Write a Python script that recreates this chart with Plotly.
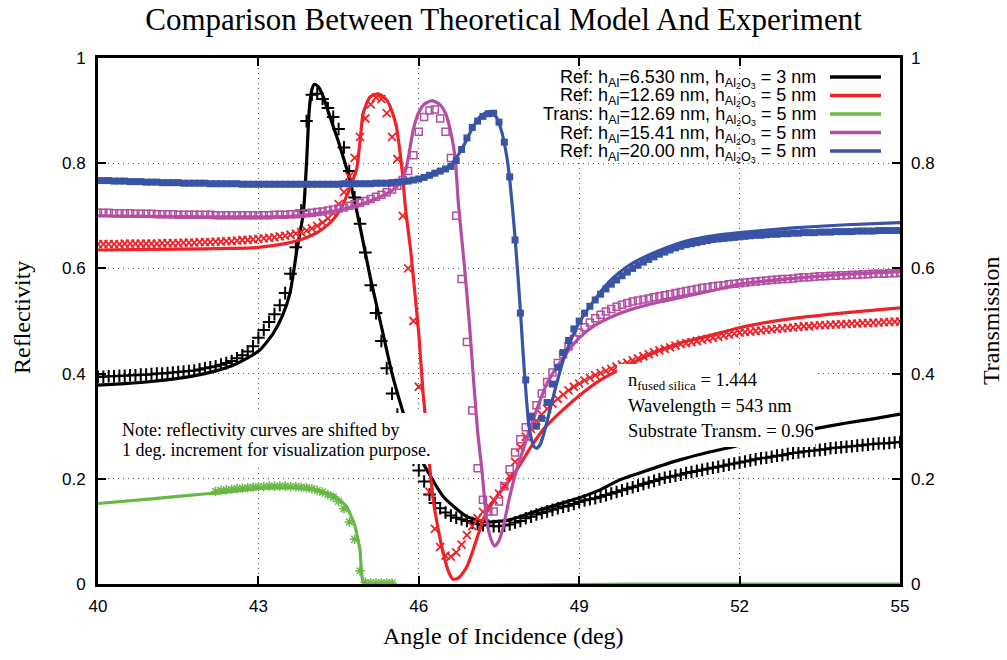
import plotly.graph_objects as go

# ---------------- data ----------------
EXP_ANGLE = [40.0, 40.1, 40.2, 40.3, 40.4, 40.5, 40.6, 40.7, 40.8, 40.9,
             41.0, 41.1, 41.2, 41.3, 41.4, 41.5, 41.6, 41.7, 41.8, 41.9,
             42.0, 42.1, 42.2, 42.3, 42.4, 42.5, 42.6, 42.7, 42.8, 42.9,
             43.0, 43.1, 43.2, 43.3, 43.4, 43.5, 43.6, 43.7, 43.8, 43.9,
             44.0, 44.1, 44.2, 44.3, 44.4, 44.5, 44.6, 44.7, 44.8, 44.9,
             45.0, 45.1, 45.2, 45.3, 45.4, 45.5, 45.6, 45.7, 45.8, 45.9,
             46.0, 46.1, 46.2, 46.3, 46.4, 46.5, 46.6, 46.7, 46.8, 46.9,
             47.0, 47.1, 47.2, 47.3, 47.4, 47.5, 47.6, 47.7, 47.8, 47.9,
             48.0, 48.1, 48.2, 48.3, 48.4, 48.5, 48.6, 48.7, 48.8, 48.9,
             49.0, 49.1, 49.2, 49.3, 49.4, 49.5, 49.6, 49.7, 49.8, 49.9,
             50.0, 50.1, 50.2, 50.3, 50.4, 50.5, 50.6, 50.7, 50.8, 50.9,
             51.0, 51.1, 51.2, 51.3, 51.4, 51.5, 51.6, 51.7, 51.8, 51.9,
             52.0, 52.1, 52.2, 52.3, 52.4, 52.5, 52.6, 52.7, 52.8, 52.9,
             53.0, 53.1, 53.2, 53.3, 53.4, 53.5, 53.6, 53.7, 53.8, 53.9,
             54.0, 54.1, 54.2, 54.3, 54.4, 54.5, 54.6, 54.7, 54.8, 54.9,
             55.0]

# experiment, h_Al = 6.530 nm (black +)
BLACK_EXP = [0.394, 0.394, 0.395, 0.395, 0.396, 0.396, 0.397, 0.397, 0.398, 0.398,
             0.399, 0.400, 0.400, 0.401, 0.402, 0.403, 0.404, 0.405, 0.406, 0.408,
             0.410, 0.412, 0.414, 0.417, 0.420, 0.424, 0.429, 0.435, 0.442, 0.452,
             0.468, 0.483, 0.498, 0.513, 0.530, 0.553, 0.590, 0.640, 0.710, 0.880,
             0.930, 0.932, 0.922, 0.905, 0.888, 0.865, 0.830, 0.785, 0.735, 0.685,
             0.630, 0.568, 0.515, 0.462, 0.410, 0.362, 0.322, 0.287, 0.257, 0.236,
             0.216, 0.195, 0.170, 0.154, 0.144, 0.136, 0.130, 0.126, 0.123, 0.120,
             0.116, 0.114, 0.112, 0.111, 0.110, 0.110, 0.111, 0.113, 0.117, 0.120,
             0.125, 0.128, 0.132, 0.135, 0.138, 0.141, 0.144, 0.147, 0.149, 0.152,
             0.156, 0.159, 0.161, 0.163, 0.166, 0.169, 0.172, 0.175, 0.178, 0.181,
             0.184, 0.187, 0.190, 0.193, 0.196, 0.199, 0.202, 0.204, 0.206, 0.208,
             0.211, 0.213, 0.215, 0.217, 0.219, 0.221, 0.223, 0.225, 0.227, 0.229,
             0.231, 0.233, 0.235, 0.237, 0.239, 0.240, 0.242, 0.244, 0.245, 0.247,
             0.249, 0.250, 0.252, 0.253, 0.254, 0.255, 0.256, 0.258, 0.259, 0.260,
             0.261, 0.262, 0.263, 0.264, 0.265, 0.266, 0.267, 0.267, 0.268, 0.269,
             0.270]

# experiment, h_Al = 12.69 nm (red x)
RED_EXP = [0.646, 0.646, 0.646, 0.646, 0.646, 0.647, 0.647, 0.647, 0.647, 0.647,
           0.647, 0.647, 0.648, 0.648, 0.648, 0.648, 0.649, 0.649, 0.649, 0.650,
           0.650, 0.650, 0.651, 0.651, 0.652, 0.652, 0.653, 0.654, 0.654, 0.655,
           0.656, 0.657, 0.658, 0.659, 0.661, 0.662, 0.664, 0.666, 0.669, 0.672,
           0.676, 0.681, 0.687, 0.695, 0.705, 0.722, 0.745, 0.775, 0.810, 0.850,
           0.885, 0.912, 0.925, 0.922, 0.895, 0.850, 0.808, 0.700, 0.600, 0.500,
           0.375, 0.270, 0.175, 0.105, 0.070, 0.054, 0.052, 0.060, 0.075, 0.093,
           0.110, 0.125, 0.137, 0.148, 0.160, 0.172, 0.187, 0.205, 0.232, 0.260,
           0.280, 0.295, 0.310, 0.322, 0.333, 0.343, 0.352, 0.360, 0.368, 0.375,
           0.381, 0.387, 0.392, 0.397, 0.401, 0.405, 0.409, 0.413, 0.417, 0.421,
           0.425, 0.429, 0.433, 0.437, 0.441, 0.444, 0.447, 0.450, 0.453, 0.456,
           0.458, 0.460, 0.462, 0.464, 0.466, 0.468, 0.470, 0.472, 0.474, 0.476,
           0.478, 0.479, 0.480, 0.481, 0.482, 0.483, 0.484, 0.485, 0.486, 0.487,
           0.488, 0.489, 0.490, 0.490, 0.491, 0.492, 0.492, 0.493, 0.493, 0.494,
           0.494, 0.495, 0.495, 0.496, 0.496, 0.497, 0.497, 0.498, 0.498, 0.499,
           0.499]

# experiment, h_Al = 15.41 nm (magenta open squares)
MAGENTA_EXP = [0.706, 0.706, 0.706, 0.705, 0.705, 0.705, 0.705, 0.704, 0.704, 0.704,
               0.704, 0.703, 0.703, 0.703, 0.703, 0.702, 0.702, 0.702, 0.702, 0.702,
               0.702, 0.702, 0.701, 0.701, 0.701, 0.701, 0.701, 0.701, 0.701, 0.701,
               0.701, 0.701, 0.701, 0.702, 0.702, 0.702, 0.703, 0.703, 0.704, 0.705,
               0.706, 0.707, 0.708, 0.710, 0.712, 0.714, 0.716, 0.719, 0.722, 0.725,
               0.728, 0.732, 0.736, 0.740, 0.745, 0.750, 0.757, 0.768, 0.785, 0.815,
               0.860, 0.888, 0.900, 0.902, 0.885, 0.860, 0.810, 0.700, 0.580, 0.460,
               0.330, 0.220, 0.160, 0.138, 0.138, 0.157, 0.186, 0.218, 0.250, 0.275,
               0.298, 0.318, 0.340, 0.362, 0.384, 0.402, 0.420, 0.437, 0.452, 0.466,
               0.478, 0.488, 0.497, 0.505, 0.512, 0.518, 0.523, 0.527, 0.531, 0.534,
               0.537, 0.539, 0.541, 0.543, 0.545, 0.547, 0.549, 0.551, 0.553, 0.555,
               0.557, 0.559, 0.561, 0.563, 0.564, 0.566, 0.567, 0.568, 0.570, 0.571,
               0.572, 0.573, 0.574, 0.575, 0.576, 0.577, 0.578, 0.579, 0.580, 0.580,
               0.581, 0.582, 0.583, 0.583, 0.584, 0.585, 0.585, 0.586, 0.586, 0.587,
               0.587, 0.588, 0.588, 0.589, 0.589, 0.590, 0.590, 0.590, 0.591, 0.591,
               0.592]

# experiment, h_Al = 20.00 nm (blue filled squares)
BLUE_EXP = [0.767, 0.767, 0.767, 0.766, 0.766, 0.766, 0.765, 0.765, 0.765, 0.764,
            0.764, 0.764, 0.763, 0.763, 0.763, 0.763, 0.762, 0.762, 0.762, 0.762,
            0.762, 0.761, 0.761, 0.761, 0.761, 0.761, 0.761, 0.760, 0.760, 0.760,
            0.760, 0.760, 0.760, 0.760, 0.760, 0.760, 0.760, 0.760, 0.760, 0.760,
            0.760, 0.760, 0.760, 0.760, 0.760, 0.760, 0.761, 0.761, 0.761, 0.761,
            0.761, 0.761, 0.762, 0.762, 0.762, 0.763, 0.764, 0.765, 0.766, 0.768,
            0.770, 0.773, 0.777, 0.781, 0.785, 0.789, 0.794, 0.805, 0.826, 0.848,
            0.868, 0.880, 0.889, 0.894, 0.895, 0.878, 0.840, 0.774, 0.654, 0.515,
            0.388, 0.318, 0.300, 0.315, 0.345, 0.380, 0.412, 0.440, 0.463, 0.485,
            0.500, 0.515, 0.528, 0.540, 0.551, 0.561, 0.570, 0.578, 0.586, 0.593,
            0.600, 0.606, 0.612, 0.617, 0.622, 0.627, 0.631, 0.635, 0.639, 0.642,
            0.645, 0.647, 0.649, 0.651, 0.653, 0.655, 0.656, 0.657, 0.658, 0.659,
            0.660, 0.661, 0.662, 0.663, 0.663, 0.664, 0.665, 0.665, 0.666, 0.666,
            0.667, 0.667, 0.668, 0.668, 0.668, 0.669, 0.669, 0.669, 0.670, 0.670,
            0.670, 0.670, 0.671, 0.671, 0.671, 0.671, 0.672, 0.672, 0.672, 0.672,
            0.672]

# experiment, transmission h_Al = 12.69 nm (green)
GREEN_EXP_ANGLE = [42.2, 42.3, 42.4, 42.5, 42.6, 42.7, 42.8, 42.9, 43.0, 43.1,
                   43.2, 43.3, 43.4, 43.5, 43.6, 43.7, 43.8, 43.9, 44.0, 44.1,
                   44.2, 44.3, 44.4, 44.5, 44.6, 44.7, 44.8, 44.9, 45.0, 45.1,
                   45.2, 45.3, 45.4, 45.5]
GREEN_EXP = [0.176, 0.178, 0.179, 0.180, 0.181, 0.182, 0.183, 0.184, 0.185, 0.185,
             0.186, 0.186, 0.186, 0.186, 0.185, 0.185, 0.184, 0.183, 0.181, 0.178,
             0.175, 0.170, 0.165, 0.157, 0.143, 0.118, 0.085, 0.025, 0.003, 0.002,
             0.002, 0.002, 0.002, 0.002]

# theory curves
BLACK_TH_ANGLE = [40.0, 40.5, 41.0, 41.5, 42.0, 42.5, 42.8, 43.03, 43.28, 43.45, 43.59,
                  43.72, 43.84, 43.9, 43.95, 44.0, 44.05, 44.12, 44.2, 44.3, 44.5, 44.71,
                  44.9, 45.09, 45.3, 45.5, 45.71, 45.9, 46.15, 46.46, 46.9, 47.27, 47.7,
                  48.27, 48.89, 49.39, 49.76, 50.3, 50.88, 51.4, 51.88, 52.5, 53.0,
                  53.44, 54.0, 54.5, 55.0]
BLACK_TH = [0.378, 0.381, 0.385, 0.391, 0.400, 0.415, 0.430, 0.445, 0.477, 0.510, 0.553,
            0.635, 0.705, 0.800, 0.900, 0.940, 0.950, 0.945, 0.930, 0.900, 0.840, 0.768,
            0.680, 0.584, 0.490, 0.400, 0.325, 0.265, 0.217, 0.166, 0.128, 0.118, 0.122,
            0.141, 0.160, 0.179, 0.198, 0.217, 0.236, 0.250, 0.261, 0.277, 0.288,
            0.296, 0.306, 0.314, 0.323]

RED_TH_ANGLE = [40.0, 41.0, 42.0, 42.5, 43.0, 43.5, 43.8, 44.0, 44.2, 44.4, 44.55, 44.7,
                44.77, 44.84, 44.9, 44.96, 45.09, 45.24, 45.4, 45.5, 45.58, 45.65, 45.7,
                45.75, 45.85, 45.92, 46.0, 46.08, 46.15, 46.21, 46.27, 46.33, 46.4, 46.46,
                46.55, 46.64, 46.75, 46.9, 47.0, 47.14, 47.2, 47.35, 47.5, 47.7, 47.9,
                48.08, 48.33, 48.6, 49.0, 49.4, 49.8, 50.3, 50.88, 51.5, 52.07, 53.0,
                54.0, 55.0]
RED_TH = [0.635, 0.636, 0.637, 0.638, 0.640, 0.647, 0.655, 0.663, 0.675, 0.693, 0.715, 0.750,
          0.768, 0.790, 0.840, 0.895, 0.926, 0.932, 0.920, 0.898, 0.870, 0.820, 0.775,
          0.715, 0.632, 0.560, 0.475, 0.363, 0.290, 0.217, 0.160, 0.122, 0.085, 0.058,
          0.025, 0.009, 0.012, 0.033, 0.060, 0.103, 0.122, 0.150, 0.172, 0.198, 0.228,
          0.258, 0.294, 0.322, 0.358, 0.388, 0.410, 0.435, 0.458, 0.474, 0.489, 0.505,
          0.516, 0.525]

GREEN_TH_ANGLE = [40.0, 41.0, 42.09, 43.09, 43.6, 44.03, 44.2, 44.4, 44.55, 44.65, 44.75,
                  44.81, 44.86, 44.9, 44.93, 44.96, 45.0, 50.0, 55.0]
GREEN_TH = [0.153, 0.162, 0.172, 0.182, 0.183, 0.179, 0.175, 0.169, 0.157, 0.147, 0.125,
            0.109, 0.085, 0.065, 0.020, 0.004, 0.000, 0.000, 0.000]

MAGENTA_TH_ANGLE = [40.0, 41.0, 42.0, 43.0, 43.6, 44.0, 44.5, 45.0, 45.3, 45.5, 45.65, 45.75,
                    45.82, 45.9, 46.0, 46.1, 46.25, 46.4, 46.5, 46.6, 46.68, 46.74, 46.8,
                    46.86, 46.95, 47.03, 47.1, 47.18, 47.27, 47.35, 47.42, 47.5, 47.58,
                    47.7, 47.83, 48.0, 48.2, 48.4, 48.7, 49.0, 49.3, 49.65, 50.0, 50.5,
                    50.9, 51.5, 52.0, 53.0, 54.0, 55.0]
MAGENTA_TH = [0.700, 0.699, 0.698, 0.698, 0.699, 0.703, 0.711, 0.725, 0.737, 0.748, 0.762, 0.785,
              0.820, 0.865, 0.897, 0.912, 0.919, 0.911, 0.895, 0.858, 0.810, 0.724, 0.660,
              0.597, 0.490, 0.380, 0.290, 0.217, 0.122, 0.085, 0.072, 0.082, 0.109,
              0.166, 0.217, 0.270, 0.330, 0.382, 0.430, 0.468, 0.492, 0.510, 0.523, 0.536,
              0.545, 0.558, 0.570, 0.581, 0.589, 0.594]

BLUE_TH_ANGLE = [40.0, 41.0, 42.0, 43.0, 44.0, 45.0, 45.5, 46.0, 46.3, 46.6, 46.8, 47.0,
                 47.15, 47.3, 47.45, 47.55, 47.65, 47.7, 47.8, 47.9, 47.95, 48.0, 48.05,
                 48.1, 48.15, 48.2, 48.27, 48.35, 48.45, 48.55, 48.7, 48.85, 49.0, 49.25,
                 49.5, 49.75, 50.0, 50.5, 51.0, 51.5, 52.0, 53.0, 54.0, 55.0]
BLUE_TH = [0.767, 0.764, 0.762, 0.760, 0.760, 0.761, 0.763, 0.770, 0.779, 0.797, 0.826, 0.866,
           0.889, 0.898, 0.888, 0.860, 0.810, 0.770, 0.660, 0.520, 0.440, 0.370, 0.310,
           0.278, 0.262, 0.258, 0.265, 0.290, 0.330, 0.370, 0.425, 0.465, 0.497, 0.535,
           0.568, 0.592, 0.610, 0.634, 0.652, 0.662, 0.668, 0.677, 0.683, 0.687]

LEGEND_LABELS = [
    "Ref: h<sub>Al</sub>=6.530 nm, h<sub>Al<sub>2</sub>O<sub>3</sub></sub> = 3 nm",
    "Ref: h<sub>Al</sub>=12.69 nm, h<sub>Al<sub>2</sub>O<sub>3</sub></sub> = 5 nm",
    "Trans: h<sub>Al</sub>=12.69 nm, h<sub>Al<sub>2</sub>O<sub>3</sub></sub> = 5 nm",
    "Ref: h<sub>Al</sub>=15.41 nm, h<sub>Al<sub>2</sub>O<sub>3</sub></sub> = 5 nm",
    "Ref: h<sub>Al</sub>=20.00 nm, h<sub>Al<sub>2</sub>O<sub>3</sub></sub> = 5 nm",
]
X_TICKS = [40, 43, 46, 49, 52, 55]
Y_TICKS = [0, 0.2, 0.4, 0.6, 0.8, 1]
Y_TICKTEXT = ["0", "0.2", "0.4", "0.6", "0.8", "1"]

# ---------------- styling ----------------
BLACK = "#000000"
RED = "#ee2229"
GREEN = "#67b844"
MAGENTA = "#b54ea3"
BLUE = "#3953a5"
SERIF = "Liberation Serif, Times New Roman, serif"
SANS = "Liberation Sans, Arial, sans-serif"

W, H = 1007, 660
L, R, T, B = 98, 107, 58, 76
PW, PH = W - L - R, H - T - B


def px(x):
    return (x - L) / PW


def py(y):
    return (H - B - y) / PH


fig = go.Figure()


def add_series(th_x, th_y, ex_x, ex_y, color, symbol, size, lw, yaxis="y"):
    fig.add_trace(go.Scatter(x=th_x, y=th_y, mode="lines", yaxis=yaxis,
                             line=dict(color=color, width=3.2, shape="spline", smoothing=0.6),
                             showlegend=False, hoverinfo="skip"))
    fig.add_trace(go.Scatter(x=ex_x, y=ex_y, mode="markers", yaxis=yaxis,
                             marker=dict(symbol=symbol, size=size, color=color,
                                         line=dict(color=color, width=lw)),
                             showlegend=False, hoverinfo="skip"))


add_series(BLACK_TH_ANGLE, BLACK_TH, EXP_ANGLE, BLACK_EXP, BLACK, "cross-thin", 9, 2.0)
add_series(RED_TH_ANGLE, RED_TH, EXP_ANGLE, RED_EXP, RED, "x-thin", 8, 1.8)
add_series(GREEN_TH_ANGLE, GREEN_TH, GREEN_EXP_ANGLE, GREEN_EXP, GREEN, "asterisk-open", 8, 1.5, "y2")
add_series(MAGENTA_TH_ANGLE, MAGENTA_TH, EXP_ANGLE, MAGENTA_EXP, MAGENTA, "square-open", 7, 1.5)
add_series(BLUE_TH_ANGLE, BLUE_TH, EXP_ANGLE, BLUE_EXP, BLUE, "square", 7, 0)

axis_common = dict(showline=True, linewidth=2.8, linecolor="black", mirror="ticks",
                   ticks="inside", ticklen=8, tickwidth=2, tickcolor="black",
                   showgrid=True, gridcolor="#555555", gridwidth=1, griddash="1px,4px",
                   zeroline=False, tickfont=dict(family=SANS, size=17, color="black"))

fig.update_layout(
    width=W, height=H, autosize=False,
    margin=dict(l=L, r=R, t=T, b=B),
    paper_bgcolor="white", plot_bgcolor="white",
    showlegend=False,
    title=dict(text="Comparison Between Theoretical Model And Experiment",
               font=dict(family=SERIF, size=31, color="black"),
               x=0.5, xanchor="center", y=1 - 19 / H, yanchor="middle"),
    xaxis=dict(range=[40, 55], tickvals=X_TICKS, ticklabelstandoff=5, **axis_common),
    yaxis=dict(range=[0, 1], tickvals=Y_TICKS, ticktext=Y_TICKTEXT, ticklabelstandoff=6,
               **axis_common),
    yaxis2=dict(range=[0, 1], tickvals=Y_TICKS, ticktext=Y_TICKTEXT, overlaying="y",
                side="right", showline=False, showgrid=False, ticks="", zeroline=False,
                ticklabelstandoff=10,
                tickfont=dict(family=SANS, size=17, color="black")),
)

shapes = []
# opaque key box (hides grid only)
shapes.append(dict(type="rect", xref="paper", yref="paper", x0=px(527), x1=1, y0=py(162), y1=1,
                   fillcolor="white", line=dict(width=0), layer="between"))
# note box & parameter box (opaque above curves)
shapes.append(dict(type="rect", xref="paper", yref="paper", x0=px(112), x1=px(438),
                   y0=py(464), y1=py(413), fillcolor="white", line=dict(width=0), layer="above"))
shapes.append(dict(type="rect", xref="paper", yref="paper", x0=px(617), x1=px(815),
                   y0=py(447), y1=py(364), fillcolor="white", line=dict(width=0), layer="above"))

annotations = []
legend_colors = [BLACK, RED, GREEN, MAGENTA, BLUE]
row_y = [77, 95.5, 114, 132.5, 151]
for lab, col, ry in zip(LEGEND_LABELS, legend_colors, row_y):
    shapes.append(dict(type="line", xref="paper", yref="paper", x0=px(830), x1=px(881),
                       y0=py(ry), y1=py(ry), line=dict(color=col, width=3.5), layer="above"))
    annotations.append(dict(text=lab, xref="paper", yref="paper", x=px(818), y=py(ry + 2),
                            xanchor="right", yanchor="middle", showarrow=False,
                            font=dict(family=SANS, size=18, color="black")))

note_lines = ["Note: reflectivity curves are shifted by",
              "1 deg. increment for visualization purpose."]
for i, t in enumerate(note_lines):
    annotations.append(dict(text=t, xref="paper", yref="paper", x=px(120), y=py(430 + 20 * i),
                            xanchor="left", yanchor="middle", showarrow=False,
                            font=dict(family=SERIF, size=18, color="black")))

param_lines = ["n<sub>fused silica</sub> = 1.444", "Wavelength = 543 nm",
               "Substrate Transm. = 0.96"]
for i, t in enumerate(param_lines):
    annotations.append(dict(text=t, xref="paper", yref="paper", x=px(626), y=py(381 + 25 * i),
                            xanchor="left", yanchor="middle", showarrow=False,
                            font=dict(family=SERIF, size=18.5, color="black")))

annotations.append(dict(text="Angle of Incidence (deg)", xref="paper", yref="paper",
                        x=px(503), y=py(636), xanchor="center", yanchor="middle",
                        showarrow=False, font=dict(family=SERIF, size=24, color="black")))
annotations.append(dict(text="Reflectivity", xref="paper", yref="paper",
                        x=px(22), y=py(318), xanchor="center", yanchor="middle", textangle=-90,
                        showarrow=False, font=dict(family=SERIF, size=24, color="black")))
annotations.append(dict(text="Transmission", xref="paper", yref="paper",
                        x=px(991), y=py(321), xanchor="center", yanchor="middle", textangle=-90,
                        showarrow=False, font=dict(family=SERIF, size=24, color="black")))

fig.update_layout(shapes=shapes, annotations=annotations)
fig.write_html("out.html")
